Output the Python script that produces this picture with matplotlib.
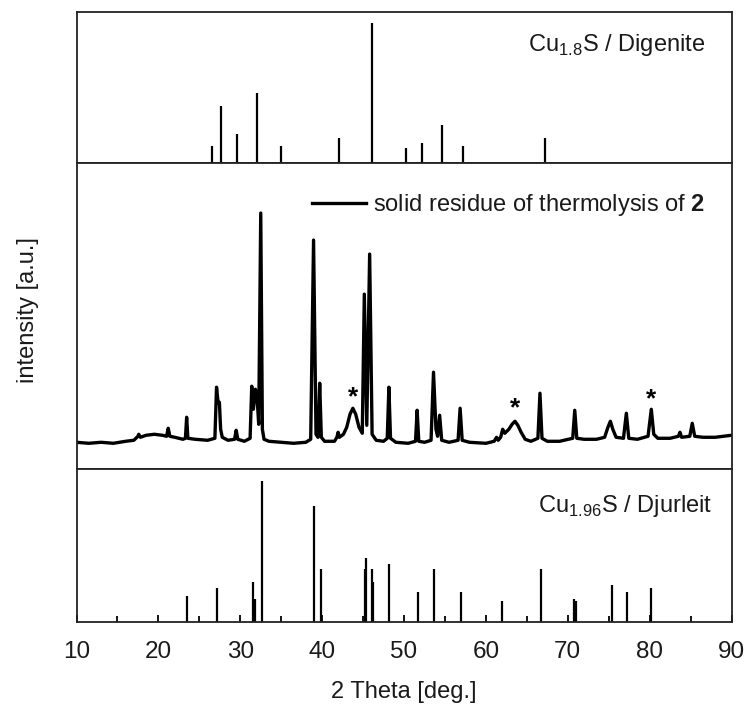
# XRD pattern of the thermolysis residue with Cu2-xS reference patterns

import matplotlib
matplotlib.use('Agg')
import matplotlib.pyplot as plt
from matplotlib.ticker import MultipleLocator

plt.rcParams['font.family'] = ['Liberation Sans', 'DejaVu Sans']
plt.rcParams['mathtext.fontset'] = 'custom'
plt.rcParams['mathtext.rm'] = 'Liberation Sans'
plt.rcParams['mathtext.bf'] = 'Liberation Sans:bold'

# reference: Cu1.8S / Digenite (2theta, rel. intensity)
digenite_pos = [26.5, 27.7, 29.6, 32.1, 35.0, 42.1, 46.05, 50.2, 52.2, 54.6, 57.25, 67.2]
digenite_int = [12, 41, 21, 50, 12, 18, 100, 11, 14, 27, 12, 18]

# reference: Cu1.96S / Djurleit
djurleit_pos = [23.45, 27.2, 31.55, 31.8, 32.6, 38.95, 39.8, 45.2, 45.35, 46.05, 46.25,
                48.2, 51.75, 53.7, 56.95, 62.0, 66.7, 70.7, 70.95, 75.35, 77.2, 80.2]
djurleit_int = [18, 24, 28, 16, 100, 82, 37, 37, 45, 37, 28,
                41, 21, 37, 21, 15, 37, 16, 15, 26, 21, 24]

meas_theta = [10.0, 11.5, 13.0, 14.5, 16.0, 17.0, 17.5, 17.6, 17.8, 18.5, 19.5, 20.5,
              21.0, 21.2, 21.4, 22.0, 23.0, 23.3, 23.45, 23.6, 24.5, 26.0, 26.9, 27.1,
              27.3, 27.45, 27.6, 27.8, 28.5, 29.3, 29.5, 29.7, 30.5, 31.2, 31.4, 31.6,
              31.85, 32.05, 32.25, 32.5, 32.7, 32.9, 33.5, 35.0, 36.5, 38.0, 38.6, 38.95,
              39.25, 39.5, 39.7, 39.9, 40.3, 41.5, 41.8, 41.95, 42.1, 42.6, 43.0, 43.4,
              43.75, 44.1, 44.5, 44.9, 45.15, 45.45, 45.8, 46.1, 46.6, 47.5, 47.95, 48.15,
              48.35, 49.0, 50.5, 51.4, 51.6, 51.8, 52.5, 53.3, 53.6, 53.9, 54.1, 54.35,
              54.6, 55.5, 56.6, 56.85, 57.1, 58.0, 60.0, 61.0, 61.3, 61.5, 61.8, 62.05,
              62.3, 62.8, 63.2, 63.55, 63.9, 64.3, 64.8, 65.5, 66.35, 66.6, 66.85, 67.5,
              69.0, 70.6, 70.85, 71.1, 72.0, 73.5, 74.5, 74.9, 75.2, 75.5, 75.9, 76.8,
              77.15, 77.45, 78.5, 79.8, 80.2, 80.5, 81.0, 82.5, 83.5, 83.7, 83.9, 84.9,
              85.2, 85.5, 86.5, 88.0, 89.0, 90.0]
meas_int = [27, 26, 27, 26, 28, 29, 33, 35, 32, 34, 35, 34,
            33, 41, 33, 32, 30, 31, 52, 31, 30, 29, 31, 82,
            66, 67, 40, 32, 29, 30, 39, 30, 28, 31, 83, 60,
            80, 72, 45, 256, 40, 30, 28, 27, 26, 27, 30, 229,
            35, 32, 86, 32, 28, 28, 32, 37, 32, 35, 42, 55,
            61, 55, 42, 36, 175, 44, 215, 35, 29, 28, 31, 82,
            31, 27, 26, 28, 59, 28, 27, 29, 97, 40, 33, 54,
            29, 27, 29, 61, 29, 27, 26, 28, 32, 29, 32, 40,
            36, 40, 45, 48, 44, 37, 30, 28, 31, 76, 31, 28,
            28, 31, 59, 31, 30, 30, 32, 42, 48, 40, 32, 31,
            56, 31, 30, 33, 60, 35, 31, 31, 33, 37, 32, 33,
            46, 33, 32, 32, 33, 34]

# impurity reflections marked with *
star_theta = [43.75, 63.6, 80.2]
star_int = [72, 61, 70]

fig = plt.figure(figsize=(7.48, 7.05), dpi=100)
L, W = 0.1023, 0.8757
ax_top = fig.add_axes([L, 0.7688, W, 0.2142])
ax_mid = fig.add_axes([L, 0.3343, W, 0.4345])
ax_bot = fig.add_axes([L, 0.1182, W, 0.2161])

txt = '#1a1a1a'
for ax in (ax_top, ax_mid, ax_bot):
    ax.set_xlim(10, 90)
    ax.set_yticks([])
    for s in ax.spines.values():
        s.set_linewidth(1.3)
        s.set_color('#222222')

ax_top.vlines(digenite_pos, 0, digenite_int, color='black', lw=1.6)
ax_top.set_ylim(0, 108)
ax_top.set_xticks([])
ax_top.text(0.9595, 0.744, r'Cu$_\mathregular{1.8}$S / Digenite', transform=ax_top.transAxes,
            ha='right', va='baseline', fontsize=17, color=txt)

ax_mid.plot(meas_theta, meas_int, color='black', lw=2.4,
            label=r'solid residue of thermolysis of $\mathbf{2}$')
for xs, ys in zip(star_theta, star_int):
    ax_mid.text(xs, ys, '*', ha='center', va='center', fontsize=19, fontweight='bold')
ax_mid.set_ylim(0, 306)
ax_mid.set_xticks([])
ax_mid.legend(loc='center right', bbox_to_anchor=(0.9595, 0.863), frameon=False,
              fontsize=17, handlelength=2.3, handletextpad=0.3, borderpad=0,
              borderaxespad=0, labelcolor=txt)

ax_bot.vlines(djurleit_pos, 0, djurleit_int, color='black', lw=1.6)
ax_bot.set_ylim(0, 108)
ax_bot.text(0.970, 0.722, r'Cu$_\mathregular{1.96}$S / Djurleit', transform=ax_bot.transAxes,
            ha='right', va='baseline', fontsize=17, color=txt)
ax_bot.xaxis.set_major_locator(MultipleLocator(10))
ax_bot.xaxis.set_minor_locator(MultipleLocator(5))
ax_bot.tick_params(axis='x', which='both', direction='in', top=False, width=1.3,
                   labelsize=17.5, pad=14, labelcolor=txt)
ax_bot.tick_params(axis='x', which='major', length=5)
ax_bot.tick_params(axis='x', which='minor', length=4)
ax_bot.set_xlabel('2 Theta [deg.]', fontsize=17, labelpad=13, color=txt)

fig.text(28 / 748, 1 - 310 / 705, 'intensity [a.u.]', rotation=90, ha='center', va='center',
         fontsize=17, color=txt)

fig.savefig('out.png', dpi=100)
